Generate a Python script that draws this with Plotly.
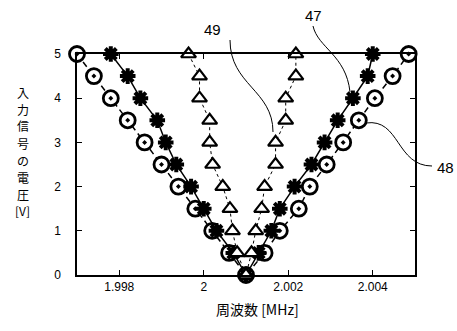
import plotly.graph_objects as go

# Input voltage levels [V]
volts = [0.5, 1.0, 1.5, 2.0, 2.5, 3.0, 3.5, 4.0, 4.5, 5.0]
center_freq = 2.00100  # shared bottom point of all three V curves [MHz]

# Series 48 (circles): frequency on low / high side for each voltage
f48_low = [2.0006, 2.0002, 1.9998, 1.9994, 1.9990, 1.9986, 1.9982, 1.9978, 1.9974, 1.9970]
f48_high = [2.00144, 2.0018, 2.00225, 2.00251, 2.00291, 2.0033, 2.00367, 2.00405, 2.00447, 2.00485]

# Series 47 (asterisks)
f47_low = [2.0007, 2.0003, 2.0000, 1.9997, 1.99935, 1.9991, 1.9989, 1.9985, 1.9982, 1.9978]
f47_high = [2.0013, 2.0016, 2.0018, 2.00215, 2.00255, 2.00286, 2.00317, 2.00353, 2.00388, 2.0040]

# Series 49 (triangles)
f49_low = [2.00079, 2.00068, 2.00062, 2.00045, 2.00021, 2.00014, 2.00014, 1.9999, 1.9999, 1.99964]
f49_high = [2.00113, 2.00123, 2.00137, 2.00144, 2.0017, 2.0017, 2.00194, 2.00194, 2.00218, 2.00218]

x_ticks = [1.998, 2.0, 2.002, 2.004]
x_tick_text = ["1.998", "2", "2.002", "2.004"]
y_ticks = [0, 1, 2, 3, 4, 5]
y_title_chars = ["入", "力", "信", "号", "の", "電", "圧", "[V]"]


def v_curve(low, high):
    xs = list(reversed(low)) + [center_freq] + list(high)
    ys = list(reversed(volts)) + [0.0] + list(volts)
    return xs, ys


fig = go.Figure()

x48, y48 = v_curve(f48_low, f48_high)
fig.add_trace(go.Scatter(
    x=x48, y=y48, mode="lines+markers",
    line=dict(color="black", width=1.5, dash="6px,4px"),
    marker=dict(symbol="circle-dot", size=15, color="white",
                line=dict(color="black", width=2.8)),
))

x47, y47 = v_curve(f47_low, f47_high)
fig.add_trace(go.Scatter(
    x=x47, y=y47, mode="lines+markers",
    line=dict(color="black", width=1.5),
    marker=dict(symbol="asterisk-open", size=13,
                line=dict(color="black", width=4)),
))

x49, y49 = v_curve(f49_low, f49_high)
fig.add_trace(go.Scatter(
    x=x49, y=y49, mode="lines+markers",
    line=dict(color="black", width=1, dash="3px,3px"),
    marker=dict(symbol="triangle-up", size=13, color="white",
                line=dict(color="black", width=2.2)),
))

L, R, T, B, W, H = 77, 42, 54, 56, 457, 331
PW, PH = W - L - R, H - T - B


def px(x, y):
    return (x - L) / PW, (H - B - y) / PH


def bez(p0, c1, c2, p1):
    pts = [px(*p) for p in (p0, c1, c2, p1)]
    return "M{:.4f},{:.4f} C{:.4f},{:.4f} {:.4f},{:.4f} {:.4f},{:.4f}".format(
        *[v for p in pts for v in p])


leaders = [
    ((230, 40), (230, 85), (273, 90), (273, 132)),
    ((313, 26), (318, 48), (346, 55), (350, 92)),
    ((366, 123), (400, 118), (396, 166), (432, 166)),
]
for p in leaders:
    fig.add_shape(type="path", xref="paper", yref="paper", path=bez(*p),
                  line=dict(color="black", width=1))

label_font = dict(family="Liberation Sans", size=15, color="black")
for txt, (lx, ly) in [("49", (212, 30)), ("47", (313, 16)), ("48", (445, 167))]:
    ax_, ay_ = px(lx, ly)
    fig.add_annotation(x=ax_, y=ay_, xref="paper", yref="paper", text=txt,
                       showarrow=False, font=label_font, xanchor="center", yanchor="middle")

# vertical y-axis title, one character per row
for i, ch in enumerate(y_title_chars):
    cx, cy = px(23, 92 + i * 17)
    fig.add_annotation(x=cx, y=cy, xref="paper", yref="paper", text=ch,
                       showarrow=False, xanchor="center", yanchor="middle",
                       borderpad=0,
                       font=dict(family="Noto Sans CJK JP", size=12, color="black"))

fig.add_annotation(x=px(257, 309)[0], y=px(257, 309)[1], xref="paper", yref="paper",
                   text="周波数 [MHz]", showarrow=False, xanchor="center", yanchor="middle",
                   font=dict(family="Noto Sans CJK JP", size=14, color="black"))

axis_common = dict(showgrid=False, zeroline=False, showline=True, linecolor="black",
                   linewidth=1.5, mirror="ticks", ticks="inside", ticklen=5,
                   tickcolor="black", tickwidth=1,
                   tickfont=dict(family="Liberation Sans", size=12, color="black"))

fig.update_layout(
    width=W, height=H, margin=dict(l=L, r=R, t=T, b=B),
    paper_bgcolor="white", plot_bgcolor="white", showlegend=False,
    xaxis=dict(range=[1.997, 2.005], tickvals=x_ticks, ticktext=x_tick_text, **axis_common),
    yaxis=dict(range=[0, 5], tickvals=y_ticks, ticklabelstandoff=12, **axis_common),
)
fig.update_traces(cliponaxis=False)

fig.write_html("out.html")
